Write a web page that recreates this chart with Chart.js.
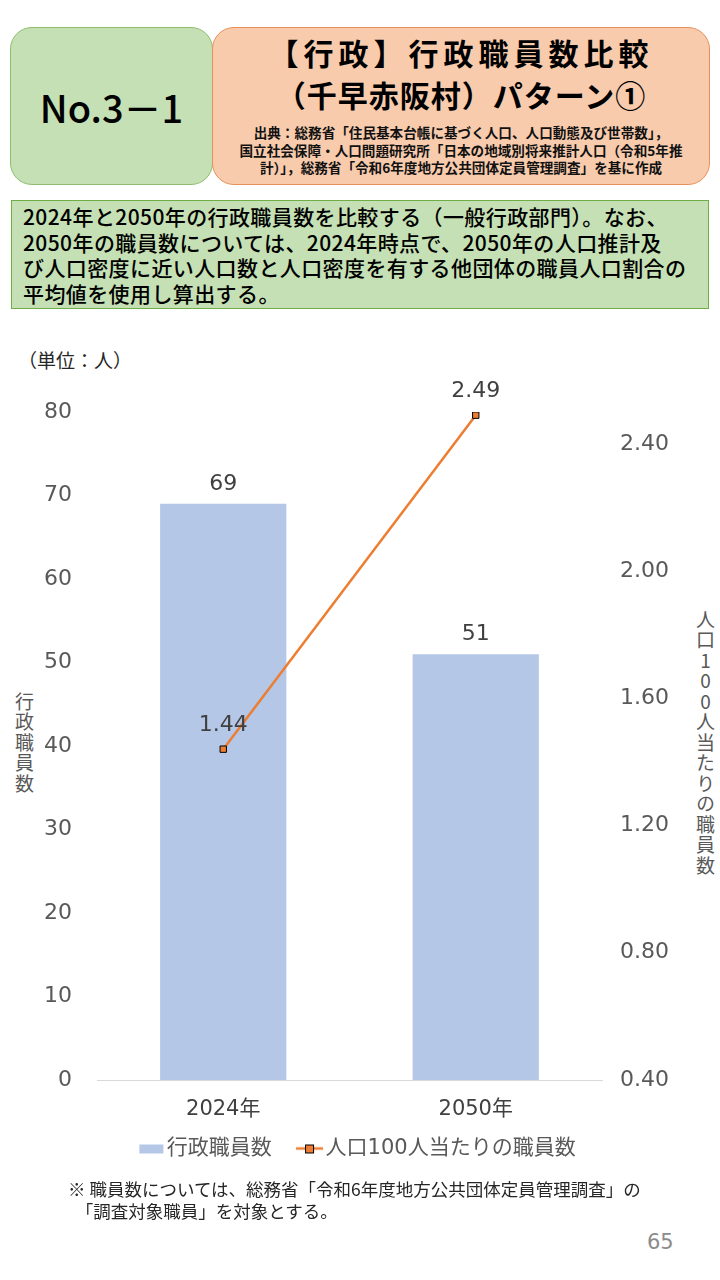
<!DOCTYPE html>
<html lang="ja">
<head>
<meta charset="utf-8">
<script src="https://cdn.jsdelivr.net/npm/chart.js@4.4.1/dist/chart.umd.min.js"></script>
<style>
  html, body { margin: 0; padding: 0; background: #fff; }
  body { width: 720px; height: 1280px; position: relative; overflow: hidden;
         font-family: "Noto Sans CJK JP", "Noto Sans", sans-serif; color: #000; }
  .box { position: absolute; box-sizing: border-box; }
  #noBox { left: 10px; top: 27px; width: 203px; height: 158px; background: #c5e0b4;
           border: 1.5px solid #8fbf6e; border-radius: 22px;
           display: flex; align-items: center; justify-content: center;
           font-size: 38px; font-weight: 500; }
  #titleBox { left: 212px; top: 27px; width: 498px; height: 158px; background: #f8cbad;
              border: 1.5px solid #e9905a; border-radius: 22px; text-align: center; }
  #titleBox .t { font-size: 30px; font-weight: 700; line-height: 42px; margin-top: 3px; letter-spacing: 1px; }
  #titleBox .t .l1 { letter-spacing: 5px; }
  #titleBox .s { font-size: 13.6px; font-weight: 700; line-height: 17.5px; margin-top: 9px; color: #111; }
  #desc { left: 11px; top: 200px; width: 698px; height: 109px; background: #c5e0b4;
          border: 1.5px solid #70ad47; padding: 3px 0 0 11px;
          font-size: 21px; font-weight: 500; line-height: 25.5px; letter-spacing: 0.4px; }
  #unit { position: absolute; left: 18px; top: 346px; font-size: 19px; color: #262626; }
  .ytitle { position: absolute; writing-mode: vertical-rl; text-orientation: upright;
            font-size: 19px; color: #595959; letter-spacing: 1.5px; }
  #yl { left: 11px; top: 692px; }
  #yr { left: 692px; top: 610px; }
  #chartWrap { position: absolute; left: 0; top: 330px; width: 720px; height: 850px; }
  #note { position: absolute; left: 68px; top: 1178px; font-size: 17.5px; line-height: 22px; color: #262626; }
  #page { position: absolute; left: 647px; top: 1230px; font-size: 21px; color: #8c8c8c;
          font-family: "DejaVu Sans", sans-serif; }
</style>
</head>
<body>
<div class="box" id="noBox">No.3－1</div>
<div class="box" id="titleBox">
  <div class="t"><span class="l1">【行政】行政職員数比較</span><br>（千早赤阪村）パターン①</div>
  <div class="s">出典：総務省「住民基本台帳に基づく人口、人口動態及び世帯数」，<br>国立社会保障・人口問題研究所「日本の地域別将来推計人口（令和5年推<br>計）」，総務省「令和6年度地方公共団体定員管理調査」を基に作成</div>
</div>
<div class="box" id="desc">2024年と2050年の行政職員数を比較する（一般行政部門）。なお、<br>2050年の職員数については、2024年時点で、2050年の人口推計及<br>び人口密度に近い人口数と人口密度を有する他団体の職員人口割合の<br>平均値を使用し算出する。</div>
<div id="unit">（単位：人）</div>
<div class="ytitle" id="yl">行政職員数</div>
<div class="ytitle" id="yr">人口100人当たりの職員数</div>
<div id="chartWrap"><canvas id="chart" width="720" height="850"></canvas></div>
<div id="note">※ 職員数については、総務省「令和6年度地方公共団体定員管理調査」の<br>&nbsp;&nbsp;「調査対象職員」を対象とする。</div>
<div id="page">65</div>

<script>
// chart data
const years = ['2024年', '2050年'];
const staffCounts = [69, 51];
const staffPer100 = [1.44, 2.49];
const seriesNames = ['行政職員数', '人口100人当たりの職員数'];

const BAR_COLOR = '#b4c7e7';
const LINE_COLOR = '#ed7d31';
const NUM_FONT = "'DejaVu Sans', 'Noto Sans CJK JP', sans-serif"; // wider digits, closer to the original

// little legend icons (bar block / line with square marker)
function makeIcon(kind) {
    const c = document.createElement('canvas');
    c.width = 30; c.height = 14;
    const g = c.getContext('2d');
    if (kind === 'bar') {
        g.fillStyle = BAR_COLOR;
        g.fillRect(4, 3, 24, 9);
    } else {
        g.strokeStyle = LINE_COLOR;
        g.lineWidth = 2.5;
        g.beginPath(); g.moveTo(2, 7); g.lineTo(29, 7); g.stroke();
        g.fillStyle = LINE_COLOR;
        g.fillRect(11.5, 3.5, 8, 8);
        g.strokeStyle = '#000';
        g.lineWidth = 1;
        g.strokeRect(11.5, 3.5, 8, 8);
    }
    return c;
}

// value labels above bars and points
const valueLabels = {
    id: 'valueLabels',
    afterDatasetsDraw(chart) {
        const ctx = chart.ctx;
        ctx.save();
        ctx.font = '22px ' + NUM_FONT;
        ctx.fillStyle = '#404040';
        ctx.textAlign = 'center';
        ctx.textBaseline = 'middle';
        chart.data.datasets.forEach((ds, i) => {
            chart.getDatasetMeta(i).data.forEach((el, j) => {
                const v = ds.data[j];
                const txt = ds.type === 'line' ? v.toFixed(2) : String(v);
                const off = ds.type === 'line' ? 24 : 20;
                ctx.fillText(txt, el.x, el.y - off);
            });
        });
        ctx.restore();
    }
};

const ctx = document.getElementById('chart').getContext('2d');
const chart = new Chart(ctx, {
    data: {
        labels: years,
        datasets: [
            {
                type: 'line',
                label: seriesNames[1],
                data: staffPer100,
                yAxisID: 'y1',
                borderColor: LINE_COLOR,
                borderWidth: 2.5,
                pointStyle: 'rect',
                pointRadius: 4.5,
                pointBackgroundColor: LINE_COLOR,
                pointBorderColor: '#000',
                pointBorderWidth: 1,
                tension: 0,
                order: 1
            },
            {
                type: 'bar',
                label: seriesNames[0],
                data: staffCounts,
                yAxisID: 'y',
                backgroundColor: BAR_COLOR,
                categoryPercentage: 1,
                barPercentage: 0.5,
                order: 2
            }
        ]
    },
    options: {
        responsive: false,
        animation: false,
        layout: { padding: { top: 82, bottom: 11 } },
        plugins: {
            tooltip: { enabled: false },
            legend: {
                position: 'bottom',
                labels: {
                    usePointStyle: true,
                    pointStyleWidth: 12,
                    color: '#595959',
                    font: { size: 21, family: NUM_FONT },
                    padding: 14,
                    generateLabels(chart) {
                        // trailing space keeps the gap before the second item
                        return [
                            { text: seriesNames[0] + '\u2002 ', pointStyle: makeIcon('bar'), fontColor: '#595959', datasetIndex: 1, lineWidth: 0 },
                            { text: seriesNames[1], pointStyle: makeIcon('line'), fontColor: '#595959', datasetIndex: 0, lineWidth: 0 }
                        ];
                    }
                }
            }
        },
        scales: {
            x: {
                grid: { display: false, drawTicks: false },
                border: { color: '#d9d9d9', width: 1 },
                ticks: { color: '#404040', font: { size: 21, family: NUM_FONT }, padding: 17 },
                afterFit(s) { s.height = 44; }
            },
            y: {
                position: 'left',
                min: 0, max: 80,
                ticks: { stepSize: 10, color: '#595959', font: { size: 22, family: NUM_FONT }, padding: 25 },
                grid: { display: false, drawTicks: false },
                border: { display: false },
                afterFit(s) { s.width = 97; }
            },
            y1: {
                position: 'right',
                min: 0.4, max: 2.5,
                ticks: {
                    stepSize: 0.4,
                    color: '#595959',
                    font: { size: 22, family: NUM_FONT },
                    padding: 18,
                    callback: v => v.toFixed(2)
                },
                afterBuildTicks(s) { s.ticks = s.ticks.filter(t => t.value <= 2.41); },
                grid: { display: false, drawTicks: false },
                border: { display: false },
                afterFit(s) { s.width = 118; }
            }
        }
    },
    plugins: [valueLabels]
});
</script>
</body>
</html>
